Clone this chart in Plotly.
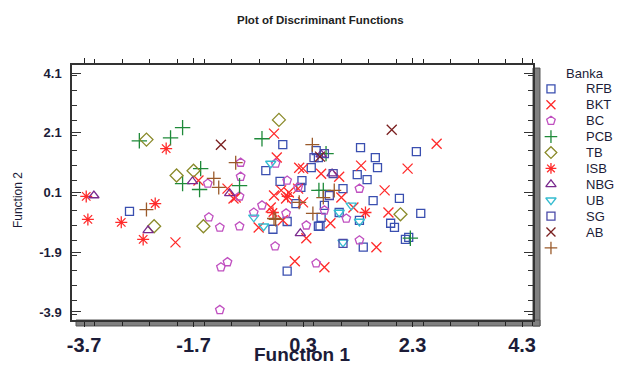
import plotly.graph_objects as go

# ---- data ----
RFB_x = [-2.87, 0.01, -0.07, -0.38, -0.12, 0.28, 0.45, 0.58, 0.54, -0.25, 0.17, 0.01, 0.58, 1.35,
         1.62, 1.66, 1.29, 1.47, 1.03, 2.06, 1.58, 0.69, 0.96, 2.45, 0.63, 0.61, 1.33, 1.90, 1.97,
         2.17, 2.23, 1.40, 2.37, 0.26]
RFB_y = [-0.53, -2.53, 1.70, 0.83, 0.47, 0.50, 0.93, 1.27, 1.50, -1.13, -0.27, -0.87, -1.03, 1.60,
         1.27, 0.93, 0.70, 0.53, 0.23, -0.10, -0.17, -0.33, -0.57, -0.60, -0.73, -1.03, -0.83, -0.93, -1.07,
         -1.47, -1.40, -1.73, 1.47, 0.27]

BKT_x = [-2.03, -1.61, -1.08, -0.93, 0.15, -0.23, -0.18, 0.23, -0.51, -0.10, 0.04, 0.21, -0.01,
         -0.23, -0.29, -0.07, 0.30, 0.36, -0.97, 0.30, 0.63, 0.96, 1.36, 2.21, 1.79, 1.00, 1.22,
         1.86, 0.80, 1.64, 0.69, 2.74]
BKT_y = [-1.57, 0.50, 0.23, -0.07, -2.20, 2.07, 1.27, 0.93, -1.07, 0.17, 0.10, 0.23, -0.10,
         0.00, -0.40, -0.83, -0.23, -1.43, -0.10, 0.90, 0.73, 0.63, 1.00, 0.90, 0.17, -0.07, -0.40,
         -0.57, -0.93, -1.73, -2.40, 1.73]

BC_x = [-1.44, -0.86, -0.84, -0.84, -1.42, -1.22, -0.86, -1.20, -1.08, -1.22, -0.21, 0.54, -0.20,
        0.01, 0.21, -0.45, -0.60, -0.01, 0.36, 0.69, 1.33, 1.09, 1.33]
BC_y = [0.40, -0.03, 0.63, 1.10, -0.73, -1.07, -1.03, -2.40, -2.23, -3.83, -1.70, -2.27, 1.07,
        0.50, 0.27, -0.33, -0.57, -0.60, -1.00, -0.50, 0.23, -0.77, -1.50]

PCB_x = [-2.69, -2.12, -1.90, -1.57, -1.90, -1.59, -0.86, -0.45, 0.59, 0.67, 0.72, 2.26]
PCB_y = [1.83, 1.93, 2.27, 0.90, 0.40, 0.20, 0.33, 1.90, 0.17, 0.17, 1.40, -1.43]

TB_x = [-2.56, -2.01, -1.70, -2.42, -1.52, -0.14, 2.08]
TB_y = [1.87, 0.67, 0.83, -1.03, -1.03, 2.53, -0.63]

ISB_x = [-3.66, -3.63, -2.40, -3.02, -2.62, -2.20, -0.25, 1.44, 0.02]
ISB_y = [-0.03, -0.80, -0.27, -0.90, -1.47, 1.57, -0.57, -0.57, -0.03]

NBG_x = [-3.52, -2.53, -1.72, -1.04, 0.25, 0.83, 0.63]
NBG_y = [0.00, -1.17, 0.47, 0.07, -1.27, 0.73, 1.37]

UB_x = [-0.29, -0.60, -0.42, 1.18, 0.96, 1.33, 1.03]
UB_y = [1.07, -0.73, -1.03, -0.33, -0.57, -0.87, -1.57]

SG_x = [0.69, 0.50, 0.85, 0.78, 1.03]
SG_y = [1.40, 1.27, 0.73, 0.00, -1.60]

AB_x = [-1.20, 1.92, 0.61]
AB_y = [1.70, 2.20, 1.30]

OTHER_x = [-2.56, -1.33, -1.24, -0.93, 0.47, -0.23, 0.23, 0.48, 0.87, 0.67, -0.20]
OTHER_y = [-0.47, 0.57, 0.27, 1.10, 1.70, -0.77, -0.23, -0.60, 0.17, -0.07, -0.80]

group_names = ["RFB", "BKT", "BC", "PCB", "TB", "ISB", "NBG", "UB", "SG", "AB", ""]
x_ticks = [-3.7, -1.7, 0.3, 2.3, 4.3]
y_ticks = [4.1, 2.1, 0.1, -1.9, -3.9]

series = [
    (RFB_x, RFB_y, "square-open", "#3a4fb0", 8),
    (BKT_x, BKT_y, "x-thin-open", "#ff2a2a", 10),
    (BC_x, BC_y, "pentagon-open", "#c050c0", 9),
    (PCB_x, PCB_y, "cross-thin-open", "#1f8a3a", 11),
    (TB_x, TB_y, "diamond-open", "#8a8a2a", 10),
    (ISB_x, ISB_y, "asterisk-open", "#ff2a2a", 10),
    (NBG_x, NBG_y, "triangle-up-open", "#7a2a8e", 9),
    (UB_x, UB_y, "triangle-down-open", "#35bcd0", 9),
    (SG_x, SG_y, "square-open", "#4a4aa8", 8),
    (AB_x, AB_y, "x-thin-open", "#7a1f1f", 10),
    (OTHER_x, OTHER_y, "cross-thin-open", "#9a5a2a", 10),
]

TXT = "#1c1c38"
FONT = "Liberation Sans, Arial, sans-serif"

fig = go.Figure()
for name, (xs, ys, sym, col, sz) in zip(group_names, series):
    fig.add_trace(go.Scatter(
        x=xs, y=ys, mode="markers", name=name, showlegend=False,
        marker=dict(symbol=sym, size=sz, color=col, line=dict(width=1.3, color=col)),
    ))

# ---- hand-built legend on its own small axis (row index 0 = title) ----
LEG_MARK_X = 0.123
LEG_TEXT_X = 0.56
annotations = []
for i, (name, (xs, ys, sym, col, sz)) in enumerate(zip(group_names, series)):
    fig.add_trace(go.Scatter(
        x=[LEG_MARK_X], y=[i + 1], xaxis="x2", yaxis="y2", mode="markers",
        showlegend=False, hoverinfo="skip",
        marker=dict(symbol=sym, size=min(sz, 9), color=col, line=dict(width=1.3, color=col)),
    ))
    if name:
        annotations.append(dict(x=LEG_TEXT_X, y=i + 1, xref="x2", yref="y2", text=name,
                                showarrow=False, xanchor="left", yanchor="middle",
                                font=dict(family=FONT, size=13, color=TXT)))
annotations.append(dict(x=0.30, y=0, xref="x2", yref="y2", text="Banka", showarrow=False,
                        xanchor="left", yanchor="middle", font=dict(family=FONT, size=13, color=TXT)))

# axis titles / chart title
annotations.append(dict(x=0.421, y=-0.137, xref="paper", yref="paper", text="<b>Function 1</b>",
                        showarrow=False, xanchor="center", yanchor="middle",
                        font=dict(family=FONT, size=19, color=TXT)))
annotations.append(dict(x=-0.099, y=0.47, xref="paper", yref="paper", text="Function 2",
                        textangle=-90, showarrow=False, xanchor="center", yanchor="middle",
                        font=dict(family=FONT, size=12, color=TXT)))
annotations.append(dict(x=0.456, y=1.176, xref="paper", yref="paper",
                        text="<b>Plot of Discriminant Functions</b>",
                        showarrow=False, xanchor="center", yanchor="middle",
                        font=dict(family=FONT, size=11.5, color="#222")))

fig.update_layout(
    width=618, height=366,
    margin=dict(l=72, r=0, t=65, b=46, autoexpand=False),
    paper_bgcolor="white", plot_bgcolor="white",
    showlegend=False,
    xaxis=dict(domain=[0, 0.8443], range=[-3.92, 4.50], automargin=False,
               tickvals=x_ticks, ticktext=["<b>%s</b>" % v for v in x_ticks],
               tickfont=dict(family=FONT, size=20, color=TXT), ticklabelstandoff=1,
               showgrid=False, zeroline=False, showline=True, linecolor="#333", linewidth=1.5,
               mirror="ticks", ticks="outside", ticklen=5, tickwidth=1.2, tickcolor="#222",
               minor=dict(ticks="outside", ticklen=4, tickcolor="#222", dtick=0.5, tickwidth=1)),
    yaxis=dict(range=[-4.168, 4.368], automargin=False,
               tickvals=y_ticks, ticktext=["<b>%s</b>" % v for v in y_ticks],
               tickfont=dict(family=FONT, size=13, color=TXT), ticklabelstandoff=6,
               showgrid=False, zeroline=False, showline=True, linecolor="#333", linewidth=1.5,
               mirror="ticks", ticks="inside", ticklen=9, tickwidth=1.2, tickcolor="#333",
               minor=dict(ticks="inside", ticklen=5, tickcolor="#333", dtick=0.5, tickwidth=1)),
    xaxis2=dict(domain=[0.86, 1.0], range=[0, 1], visible=False, fixedrange=True, automargin=False),
    yaxis2=dict(anchor="x2", domain=[0, 1], range=[15.53, -0.503], visible=False,
                fixedrange=True, automargin=False),
    annotations=annotations,
    shapes=[
        dict(type="rect", xref="x domain", yref="y domain", x0=1.0, x1=1.0152, y0=-0.0235, y1=0.988,
             fillcolor="#808080", line=dict(color="#555", width=1), layer="below"),
        dict(type="rect", xref="x domain", yref="y domain", x0=0.0087, x1=1.0152, y0=-0.0235, y1=0.0,
             fillcolor="#808080", line=dict(color="#555", width=1), layer="below"),
    ],
)

fig.write_html("out.html", config={"displayModeBar": False},
               post_script="document.body.style.margin='0';document.body.style.overflow='hidden';")
